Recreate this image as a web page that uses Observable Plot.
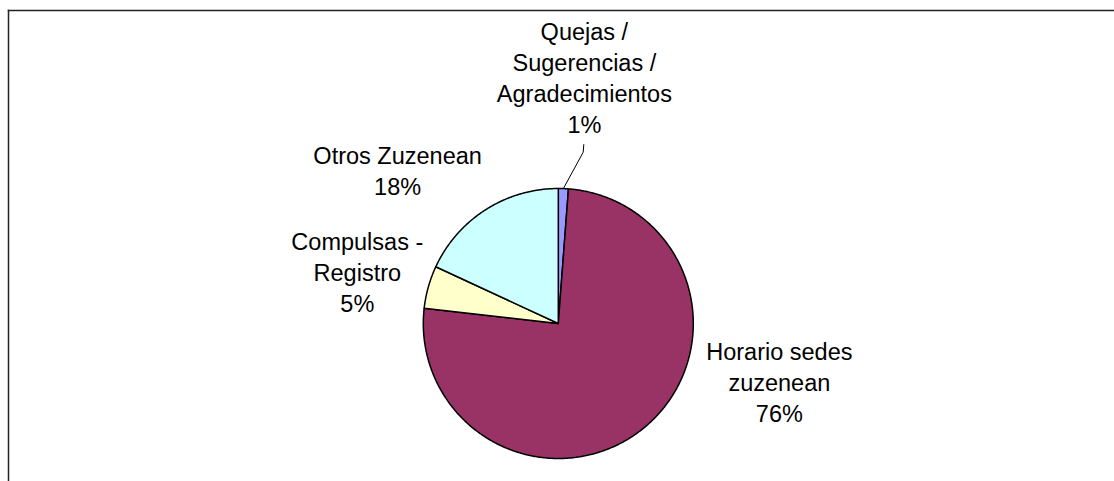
<!DOCTYPE html>
<html>
<head>
<meta charset="utf-8">
<script src="https://cdn.jsdelivr.net/npm/d3@7"></script>
<script src="https://cdn.jsdelivr.net/npm/@observablehq/plot@0.6"></script>
<style>
  html, body { margin: 0; padding: 0; background: #ffffff; }
  #chart svg { display: block; }
</style>
</head>
<body>
<div id="chart"></div>
<script>
// ---- Data ----
const categories = [
  "Quejas / Sugerencias / Agradecimientos",
  "Horario sedes zuzenean",
  "Compulsas - Registro",
  "Otros Zuzenean"
];
const labelNames = [
  "Quejas /\nSugerencias /\nAgradecimientos",
  "Horario sedes\nzuzenean",
  "Compulsas -\nRegistro",
  "Otros Zuzenean"
];
const shares = [1.2, 75.6, 5.1, 18.1];            // percent
const sliceColors = ["#9999FF", "#993366", "#FFFFCC", "#CCFFFF"];

// ---- Layout (pixels) ----
const width = 1114, height = 481;
const marginLeft = 8, marginTop = 10;
const cx = 557.8, cy = 323, R = 135;               // pie centre & radius in px
const labelOffsets = [[21, -112], [135, -46], [-71, -16], [-88, -40]]; // px from slice rim midpoint
const fontFamily = "'Liberation Sans', Arial, Helvetica, sans-serif";
const fontSize = 23.5;

// ---- Derived geometry (unit circle, clockwise from 12 o'clock) ----
const total = d3.sum(shares);
let acc = 0;
const slices = categories.map((name, i) => {
  const a0 = acc / total * 2 * Math.PI;
  acc += shares[i];
  const a1 = acc / total * 2 * Math.PI;
  const pts = [{x: 0, y: 0}];
  const n = Math.max(2, Math.ceil((a1 - a0) / (Math.PI / 360)));
  for (let k = 0; k <= n; k++) {
    const a = a0 + (a1 - a0) * k / n;
    pts.push({x: Math.sin(a), y: Math.cos(a)});
  }
  const am = (a0 + a1) / 2;
  return {
    name, i, pts,
    mid: {x: Math.sin(am), y: Math.cos(am)},
    label: labelNames[i] + "\n" + d3.format(".0f")(shares[i]) + "%"
  };
});

const px = v => v / R; // pixel distance -> scale units

// leader line for the smallest slice
const q = slices[0].mid;
const leader = [
  {x: q.x, y: q.y},
  {x: q.x + px(19.8), y: q.y + px(36.4)},
  {x: q.x + px(20.4), y: q.y + px(44)}
];

const marks = [
  Plot.frame({anchor: "top", stroke: "#222", strokeWidth: 1.5}),
  Plot.frame({anchor: "left", stroke: "#222", strokeWidth: 1.5}),
  ...slices.map(s => Plot.line(s.pts, {
    x: "x", y: "y", curve: "linear-closed",
    fill: sliceColors[s.i], stroke: "#000", strokeWidth: 1.5, strokeLinejoin: "round"
  })),
  Plot.line(leader, {x: "x", y: "y", stroke: "#000", strokeWidth: 1}),
  ...slices.map(s => Plot.text([s], {
    x: d => d.mid.x, y: d => d.mid.y, text: "label",
    dx: labelOffsets[s.i][0], dy: labelOffsets[s.i][1],
    textAnchor: "middle", lineAnchor: "middle", lineHeight: 31 / fontSize,
    fontSize, fontFamily, fill: "#000"
  }))
];

const chart = Plot.plot({
  width, height,
  marginLeft, marginTop, marginRight: 0, marginBottom: 0,
  x: {domain: [(marginLeft - cx) / R, (width - cx) / R], axis: null},
  y: {domain: [-(height - cy) / R, (cy - marginTop) / R], axis: null},
  style: {background: "#ffffff", fontFamily, overflow: "visible"},
  marks
});
document.getElementById("chart").appendChild(chart);
</script>
</body>
</html>
